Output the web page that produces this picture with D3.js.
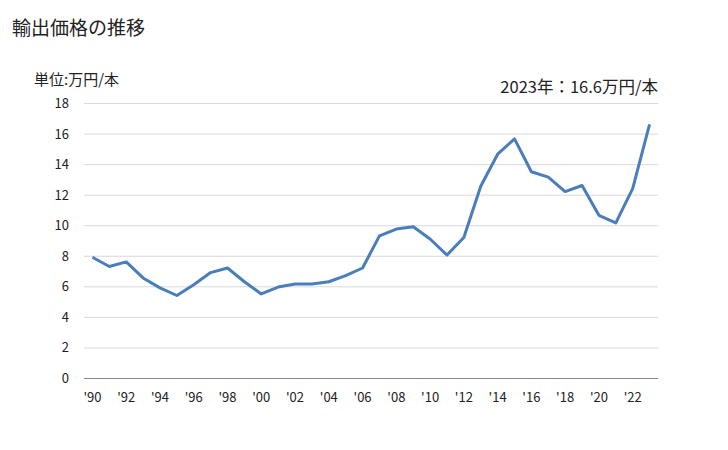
<!DOCTYPE html>
<html><head><meta charset="utf-8">
<script src="https://cdn.jsdelivr.net/npm/d3@7"></script>
<style>body{margin:0;background:#fff;}svg{display:block;}text{font-family:"Noto Sans CJK JP","Noto Sans",sans-serif;fill:#222;}</style>
</head><body>
<svg id="c" width="728" height="450"></svg>
<script>
const years = d3.range(1990, 2024);
const values = [7.9,7.3,7.6,6.55,5.9,5.4,6.1,6.9,7.2,6.3,5.5,5.95,6.15,6.15,6.3,6.7,7.2,9.3,9.75,9.9,9.1,8.05,9.2,12.55,14.65,15.65,13.5,13.15,12.2,12.6,10.65,10.15,12.4,16.6];
const yTicks = [0,2,4,6,8,10,12,14,16,18];
const xTickYears = d3.range(1990, 2023, 2);
const title = "輸出価格の推移";
const unitLabel = "単位:万円/本";
const note = "2023年：16.6万円/本";

const svg = d3.select("#c");
const L = 84, R = 658, T = 103, B = 378;
const x = d3.scaleBand().domain(years).range([L, R]);
const y = d3.scaleLinear().domain([0, 18]).range([B, T]);

svg.append("text").attr("x", 12).attr("y", 35).attr("font-size", 19).text(title);
svg.append("text").attr("x", 34).attr("y", 85).attr("font-size", 15).text(unitLabel);
svg.append("text").attr("x", R).attr("y", 93).attr("text-anchor", "end").attr("font-size", 16.5).text(note);

svg.append("g").selectAll("line").data(yTicks.filter(d => d > 0)).join("line")
  .attr("x1", L).attr("x2", R).attr("y1", d => y(d) + 0.5).attr("y2", d => y(d) + 0.5)
  .attr("stroke", "#d9d9d9").attr("stroke-width", 1);
svg.append("line").attr("x1", L).attr("x2", R).attr("y1", B + 0.5).attr("y2", B + 0.5)
  .attr("stroke", "#868686").attr("stroke-width", 1);

svg.append("g").selectAll("text").data(yTicks).join("text")
  .attr("x", 69).attr("y", d => y(d) + 5).attr("text-anchor", "end").attr("font-size", 13)
  .text(d => d);

svg.append("g").selectAll("text").data(xTickYears).join("text")
  .attr("x", d => x(d) + x.bandwidth() / 2).attr("y", 402).attr("text-anchor", "middle").attr("font-size", 13)
  .text(d => "'" + String(d % 100).padStart(2, "0"));

const line = d3.line().x((d, i) => x(years[i]) + x.bandwidth() / 2).y(d => y(d));
svg.append("path").datum(values).attr("d", line).attr("fill", "none")
  .attr("stroke", "#4a7ebb").attr("stroke-width", 3).attr("stroke-linejoin", "round");
</script>
</body></html>
